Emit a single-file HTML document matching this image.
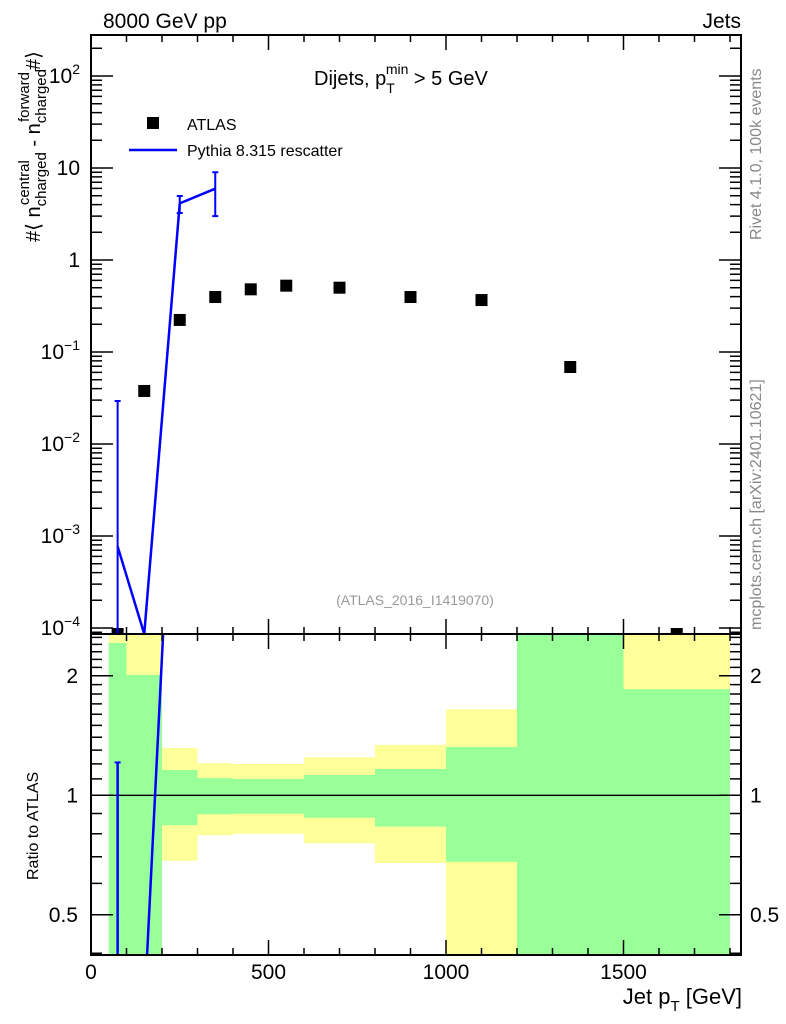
<!DOCTYPE html>
<html><head><meta charset="utf-8"><style>
html,body{margin:0;padding:0;background:#fff;width:786px;height:1024px;overflow:hidden}
svg{display:block;font-family:"Liberation Sans",sans-serif}
</style></head><body>
<svg id="chart" width="786" height="1024" viewBox="0 0 786 1024" xmlns="http://www.w3.org/2000/svg">
<defs>
<clipPath id="clipMain"><rect x="91" y="35" width="650" height="599"/></clipPath>
<clipPath id="clipRatio"><rect x="91" y="634" width="650" height="321"/></clipPath>
</defs>
<g id="bands" clip-path="url(#clipRatio)"></g>
<g id="ratioMarks" clip-path="url(#clipRatio)"></g>
<g id="mainMarks" clip-path="url(#clipMain)"></g>
<g id="axes"></g>
<text x="103" y="28" font-size="21">8000 GeV pp</text>
<text x="741" y="28" font-size="21" text-anchor="end">Jets</text>
<text x="314" y="85" font-size="20">Dijets, p<tspan dy="8" font-size="14">T</tspan><tspan dx="-9" dy="-19" font-size="14">min</tspan><tspan dy="11"> &gt; 5 GeV</tspan></text>
<g>
<rect x="147" y="117" width="12" height="12" fill="#000"/>
<text x="187" y="130" font-size="16">ATLAS</text>
<line x1="129" y1="150" x2="177" y2="150" stroke="#0000ff" stroke-width="2.5"/>
<text x="187" y="156" font-size="16">Pythia 8.315 rescatter</text>
</g>
<text x="415" y="605" font-size="14" fill="#999" text-anchor="middle">(ATLAS_2016_I1419070)</text>
<text transform="translate(761,240) rotate(-90)" font-size="16" fill="#888">Rivet 4.1.0,  100k events</text>
<text transform="translate(761,630) rotate(-90)" font-size="16" fill="#888">mcplots.cern.ch [arXiv:2401.10621]</text>
<text transform="translate(40,242) rotate(-90)" font-size="20">#⟨ n<tspan dy="6" font-size="15">charged</tspan><tspan dx="-53" dy="-17" font-size="15">central</tspan><tspan dx="8" dy="11"> - n</tspan><tspan dy="6" font-size="15">charged</tspan><tspan dx="-53" dy="-17" font-size="15">forward</tspan><tspan dx="2" dy="11">#⟩</tspan></text>
<text transform="translate(38,880) rotate(-90)" font-size="16">Ratio to ATLAS</text>
<text x="742" y="1004" font-size="22" text-anchor="end">Jet p<tspan dy="7" font-size="15">T</tspan><tspan dy="-7"> [GeV]</tspan></text>
</svg>
<script>
var binEdges=[50,100,200,300,400,500,600,800,1000,1200,1500,1800];
var atlasX=[75,150,250,350,450,550,700,900,1100,1350,1650];
var atlasY=[0,0.0377,0.223,0.396,0.48,0.526,0.50,0.396,0.367,0.0687,0];
var mcX=[75,150,250,350];
var mcY=[7.7e-4,8.6e-5,4.13,5.96];
var mcErrLo=[1e-6,8.6e-5,3.24,3.0];
var mcErrHi=[0.0293,8.6e-5,4.96,8.98];
var mcRatio=[0.01,0.285,17.6,15];
var mcRatioErrHi=[1.21,0.285,17.6,15];
var greenLo=[0.3,0.3,0.841,0.896,0.899,0.899,0.878,0.834,0.68,0.3,0.3];
var greenHi=[2.42,2.01,1.158,1.105,1.099,1.099,1.125,1.165,1.323,3,1.85];
var yellowLo=[0.3,0.3,0.684,0.793,0.80,0.80,0.757,0.675,0.3,0.3,0.3];
var yellowHi=[3,3,1.316,1.204,1.199,1.199,1.247,1.34,1.647,3,3];
var xTicks=[0,500,1000,1500];
var yTickExp=[-4,-3,-2,-1,0,1,2];
var ratioTicks=[0.5,1,2];

var NS="http://www.w3.org/2000/svg";
function X(v){return 91+v*0.355;}
function YM(v){if(v<=0)v=8.6e-5;return 260-92*Math.log10(v);}
function YR(v){if(v<=0)v=1e-3;return 795.3-119.5*Math.log2(v);}
function mk(tag,attrs,parent){var e=document.createElementNS(NS,tag);for(var k in attrs)e.setAttribute(k,attrs[k]);parent.appendChild(e);return e;}
var bands=document.getElementById('bands'),rm=document.getElementById('ratioMarks'),mm=document.getElementById('mainMarks'),ax=document.getElementById('axes');
for(var i=0;i<binEdges.length-1;i++){
 var x0=X(binEdges[i]),x1=X(binEdges[i+1]);
 var r=mk('rect',{x:x0,y:YR(yellowHi[i]),width:x1-x0,height:YR(yellowLo[i])-YR(yellowHi[i]),fill:'#ffff99'},bands);
 
 
 var g=mk('rect',{x:x0,y:YR(greenHi[i]),width:x1-x0,height:YR(greenLo[i])-YR(greenHi[i]),fill:'#99ff99'},bands);
 
 
}
var one=mk('line',{x1:91,x2:741,y1:YR(1),y2:YR(1),stroke:'#000','stroke-width':1.3},rm);


var pr='';for(var i=0;i<mcX.length;i++)pr+=(i?'L':'M')+X(mcX[i])+' '+YR(mcRatio[i]);
var rl=mk('path',{d:pr,fill:'none',stroke:'#0000ff','stroke-width':2.5},rm);


var re=mk('line',{x1:X(mcX[0]),x2:X(mcX[0]),y1:YR(mcRatioErrHi[0]),y2:960,stroke:'#0000ff','stroke-width':2.5},rm);


var rc=mk('line',{x1:X(mcX[0])-3,x2:X(mcX[0])+3,y1:YR(mcRatioErrHi[0]),y2:YR(mcRatioErrHi[0]),stroke:'#0000ff','stroke-width':2},rm);


for(var i=0;i<atlasX.length;i++){
 var p=mk('rect',{x:X(atlasX[i])-6,y:YM(atlasY[i])-6,width:12,height:12,fill:'#000'},mm);
 
 
}
var pm='';for(var i=0;i<mcX.length;i++)pm+=(i?'L':'M')+X(mcX[i])+' '+YM(mcY[i]);
var ml=mk('path',{d:pm,fill:'none',stroke:'#0000ff','stroke-width':2.5},mm);


for(var i=0;i<mcX.length;i++){
 if(mcErrHi[i]<=mcY[i]*1.01&&mcErrLo[i]>=mcY[i]*0.99)continue;
 var x=X(mcX[i]);
 var e=mk('path',{d:'M'+x+' '+YM(mcErrHi[i])+'L'+x+' '+YM(mcErrLo[i])+'M'+(x-3)+' '+YM(mcErrHi[i])+'L'+(x+3)+' '+YM(mcErrHi[i])+'M'+(x-3)+' '+YM(mcErrLo[i])+'L'+(x+3)+' '+YM(mcErrLo[i]),stroke:'#0000ff','stroke-width':2,fill:'none'},mm);
 
 
}
var f1=mk('rect',{x:91,y:35,width:650,height:599,fill:'none',stroke:'#000','stroke-width':2},ax);


var f2=mk('rect',{x:91,y:634,width:650,height:321,fill:'none',stroke:'#000','stroke-width':2},ax);


var t='';
for(var v=0;v<=1800;v+=100){var x=X(v),L=(v%500==0)?15:7;
 t+='M'+x+' 35v'+L+'M'+x+' 634v-'+L+'M'+x+' 634v'+L+'M'+x+' 955v-'+L;}
for(var d=-5;d<3;d++)for(var m=1;m<10;m++){var v=m*Math.pow(10,d);var y=YM(v);if(y<35||y>634)continue;var L=m==1?22:11;t+='M91 '+y+'h'+L+'M741 '+y+'h-'+L;}
var rt=[0.4,0.5,0.6,0.7,0.8,0.9,1,1.1,1.2,1.3,1.4,1.5,1.6,1.7,1.8,1.9,2,2.1,2.2,2.3,2.4,2.5];
for(var i=0;i<rt.length;i++){var y=YR(rt[i]);if(y<634||y>955)continue;var L=(rt[i]==0.5||rt[i]==1||rt[i]==2)?22:11;t+='M91 '+y+'h'+L+'M741 '+y+'h-'+L;}
var tk=mk('path',{d:t,stroke:'#000','stroke-width':1.5,fill:'none'},ax);


for(var i=0;i<xTicks.length;i++){
 var l=mk('text',{x:X(xTicks[i]),y:979,'font-size':21,'text-anchor':'middle'},ax);l.textContent=xTicks[i];
 
 
}
for(var i=0;i<yTickExp.length;i++){
 var e=yTickExp[i],y=YM(Math.pow(10,e))+7;
 var l=mk('text',{x:80,y:y,'font-size':21,'text-anchor':'end'},ax);
 
 
 if(e==0)l.textContent='1';else if(e==1)l.textContent='10';
 else{l.textContent='10';var s=mk('tspan',{dy:-9,'font-size':14},l);s.textContent=(e<0?'\u2212':'')+Math.abs(e);}
}
for(var i=0;i<ratioTicks.length;i++){
 var y=YR(ratioTicks[i])+7;
 var l=mk('text',{x:78,y:y,'font-size':21,'text-anchor':'end'},ax);l.textContent=ratioTicks[i];
 
 
 var r=mk('text',{x:750,y:y,'font-size':21},ax);r.textContent=ratioTicks[i];
 
 
}
</script>
</body></html>
